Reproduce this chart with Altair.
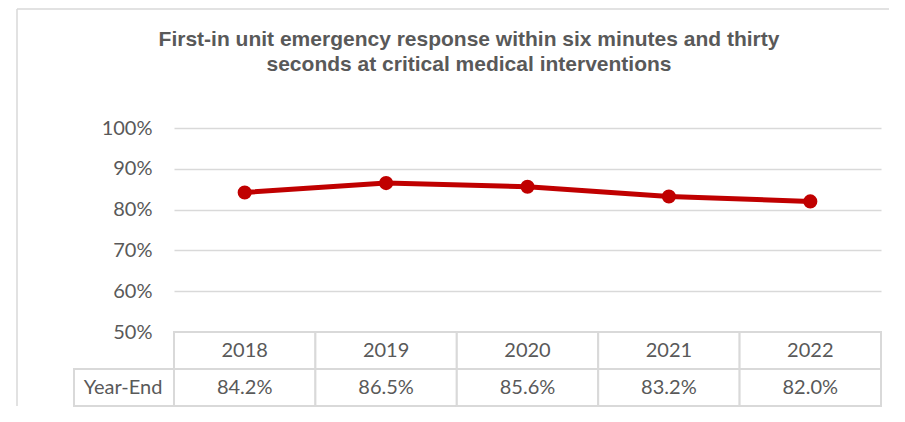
import altair as alt
import pandas as pd

years = ["2018", "2019", "2020", "2021", "2022"]
values = [0.842, 0.865, 0.856, 0.832, 0.820]
value_labels = ["84.2%", "86.5%", "85.6%", "83.2%", "82.0%"]
row_names = ["Year", "Year-End"]
row_label = "Year-End"
y_ticks = [0.5, 0.6, 0.7, 0.8, 0.9, 1.0]
title_text = "First-in unit emergency response within six  minutes and thirty\nseconds at critical medical interventions"

GRAY = "#595959"
LINE = "#d9d9d9"
RED = "#C00000"
W, H = 707, 204
TH = 74

df = pd.DataFrame({"year": years, "value": values})

xs = alt.X("year:O", scale=alt.Scale(type="point", padding=0.5, domain=years), axis=None)
ys = alt.Y(
    "value:Q",
    scale=alt.Scale(domain=[0.5, 1.0]),
    axis=alt.Axis(
        values=y_ticks, format=".0%", title=None, domain=False, ticks=False,
        labelPadding=22, labelFont="Lato", labelFontSize=20, labelColor=GRAY,
        gridColor=LINE, gridWidth=1.5,
    ),
)

line = alt.Chart(df).mark_line(color=RED, strokeWidth=5).encode(x=xs, y=ys)
pts = alt.Chart(df).mark_point(filled=True, color=RED, size=200, opacity=1).encode(x=xs, y=ys)

dummy = pd.DataFrame({"a": [0]})
frame_left = alt.Chart(dummy).mark_rule(color=LINE, strokeWidth=1.5).encode(
    x=alt.value(-157), y=alt.value(-119), y2=alt.value(H + TH)
)
frame_top = alt.Chart(dummy).mark_rule(color=LINE, strokeWidth=1.5).encode(
    x=alt.value(-157), x2=alt.value(715), y=alt.value(-119)
)
title = alt.Chart(pd.DataFrame({"t": [title_text]})).mark_text(
    font="Liberation Sans", fontWeight="bold", fontSize=21, color=GRAY,
    align="center", baseline="alphabetic", lineBreak="\n", lineHeight=25,
).encode(x=alt.value(295), y=alt.value(-82), text="t:N")

top = alt.layer(frame_left, frame_top, title, line, pts).properties(width=W, height=H)

# table
cells = []
for y, v in zip(years, value_labels):
    cells.append({"year": y, "row": "Year", "txt": y})
    cells.append({"year": y, "row": "Year-End", "txt": v})
tdf = pd.DataFrame(cells)

tx = alt.X("year:N", scale=alt.Scale(domain=years, paddingInner=0, paddingOuter=0), axis=None)
ty = alt.Y("row:N", scale=alt.Scale(domain=row_names, paddingInner=0, paddingOuter=0), axis=None)

rects = alt.Chart(tdf).mark_rect(fill="white", stroke=LINE, strokeWidth=2).encode(x=tx, y=ty)
texts = alt.Chart(tdf).mark_text(font="Lato", fontSize=20, color=GRAY, baseline="middle").encode(
    x=tx, y=ty, text="txt:N"
)
ldf = pd.DataFrame({"row": [row_label], "txt": [row_label]})
lrect = alt.Chart(ldf).mark_rect(fill="white", stroke=LINE, strokeWidth=2).encode(
    x=alt.value(-100), x2=alt.value(0), y=ty
)
ltext = alt.Chart(ldf).mark_text(font="Lato", fontSize=20, color=GRAY, baseline="middle").encode(
    x=alt.value(-51), y=ty, text="txt:N"
)
table = alt.layer(lrect, rects, texts, ltext).properties(width=W, height=TH)

chart = alt.vconcat(top, table, spacing=0, bounds="flush").properties(
    padding={"left": 8, "top": 0, "right": 0, "bottom": 0},
    background="white",
).configure_view(stroke=None, strokeWidth=0)

chart.save("out.html", embed_options={"renderer": "svg", "actions": False})
